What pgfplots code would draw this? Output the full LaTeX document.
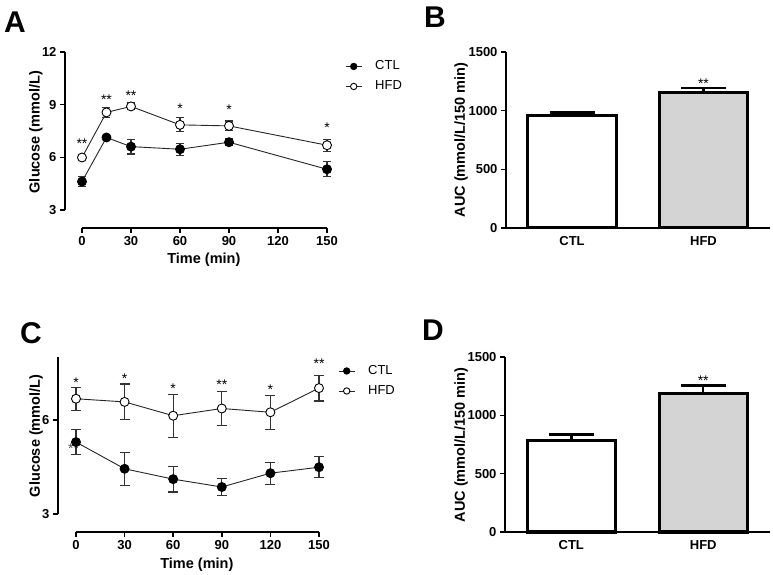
\documentclass[border=0pt]{standalone}
\usepackage{pgfplots}
\usepackage{pgfplotstable}
\pgfplotsset{compat=1.18}
\usepackage{fontspec}
\setmainfont{Liberation Sans}
\definecolor{barg}{HTML}{D4D4D4}

\pgfplotstableread{
t ctl ctle hfd hfde
0 4.62 0.30 5.99 0.06
15 7.13 0.08 8.56 0.28
30 6.61 0.42 8.90 0.20
60 6.46 0.35 7.85 0.40
90 6.86 0.20 7.79 0.28
150 5.32 0.43 6.69 0.35
}\tableA

\pgfplotstableread{
t ctl ctle hfd hfde
0 5.29 0.40 6.67 0.37
30 4.44 0.53 6.57 0.57
60 4.11 0.41 6.13 0.69
90 3.86 0.27 6.36 0.55
120 4.30 0.35 6.24 0.54
150 4.49 0.33 7.01 0.41
}\tableC

\tikzset{sig/.style={font=\fontsize{14}{16}\selectfont, anchor=center, yshift=-3.5pt, inner sep=0pt}}

\pgfplotsset{
  ctlline/.style={black!85, line width=0.9pt, mark=*, mark size=4.5pt,
    mark options={fill=black, draw=black, solid},
    error bars/.cd, y dir=both, y explicit,
    error bar style={line width=1.1pt, black!80},
    error mark options={rotate=90, black!80, line width=1.1pt, mark size=#1}},
  hfdline/.style={black!85, line width=0.9pt, mark=*, mark size=4.5pt,
    mark options={fill=white, draw=black, solid, line width=0.9pt},
    error bars/.cd, y dir=both, y explicit,
    error bar style={line width=1.1pt, black!80},
    error mark options={rotate=90, black!80, line width=1.1pt, mark size=#1}},
  lineaxis/.style={
    anchor=south west, scale only axis, clip=false,
    axis line style={draw=none},
    tick pos=left, tick align=outside, major tick length=5pt,
    tick style={black, line width=1.5pt},
    /pgf/number format/assume math mode=true,
    ticklabel style={font=\fontsize{13}{15}\selectfont\bfseries},
    label style={font=\fontsize{14.5}{17}\selectfont\bfseries},
    xlabel={Time (min)}, ylabel={Glucose (mmol/L)},
    legend style={draw=none, fill=none, inner sep=0pt, row sep=7.5pt,
      font=\fontsize{13}{15}\selectfont,
      nodes={inner sep=0pt, text height=9.5pt, text depth=3pt},
      /tikz/every odd column/.append style={column sep=13pt},
      legend cell align=left},
    legend image code/.code={
      \draw[mark repeat=2, mark phase=2, ##1, mark size=3.2pt] plot coordinates {(0pt,0pt) (8pt,0pt) (16pt,0pt)};},
  },
  baraxis/.style={
    anchor=south west, scale only axis, clip=false,
    xmin=-0.502, xmax=1.506, ymin=0, ymax=1500,
    axis x line*=bottom, axis y line*=left,
    axis line style={line width=2pt, black},
    xtick={0,1}, xticklabels={CTL,HFD}, ytick={0,500,1000,1500},
    x tick style={draw=none}, y tick style={black, line width=1.5pt},
    tick align=outside, major tick length=5pt,
    /pgf/number format/assume math mode=true,
    /pgf/number format/set thousands separator={},
    ticklabel style={font=\fontsize{13}{15}\selectfont\bfseries},
    label style={font=\fontsize{14.5}{17}\selectfont\bfseries},
    ylabel={AUC (mmol/L/150 min)},
  },
  thebar/.style={ybar, bar width=0.67, bar shift=0pt, draw=black, line width=3pt,
    error bars/.cd, y dir=plus, y explicit,
    error bar style={line width=2.5pt, black},
    error mark options={rotate=90, black, line width=2.5pt, mark size=22.5pt}},
}

\begin{document}
\begin{tikzpicture}
\path[use as bounding box] (0pt,0pt) rectangle (773pt,575pt);

% Panel A
\begin{axis}[lineaxis,
  at={(65pt,347pt)}, width=262pt, height=176pt,
  xmin=-10.4, xmax=150, ymin=1.975, ymax=12,
  xtick={0,30,60,90,120,150}, ytick={3,6,9,12},
  xlabel style={at={(axis description cs:0.53,-0.182)}, anchor=center},
  ylabel style={at={(axis description cs:-0.111,0.545)}, anchor=center},
  legend style={at={(axis description cs:1.069,0.861)}, anchor=west},
]
\draw[black, line width=2pt] (axis cs:-10.4,3) -- (axis cs:-10.4,12);
\draw[black, line width=2pt] (axis cs:0,1.975) -- (axis cs:150,1.975);
\addplot[ctlline=4pt] table[x=t, y=ctl, y error=ctle] {\tableA};
\addlegendentry{CTL}
\addplot[hfdline=4pt] table[x=t, y=hfd, y error=hfde] {\tableA};
\addlegendentry{HFD}
\node[sig] at (axis cs:0,7.0) {**};
\node[sig] at (axis cs:15,9.47) {**};
\node[sig] at (axis cs:30,9.70) {**};
\node[sig] at (axis cs:60,8.99) {*};
\node[sig] at (axis cs:90,8.90) {*};
\node[sig] at (axis cs:150,7.91) {*};
\end{axis}

% Panel B
\begin{axis}[baraxis,
  at={(506pt,347pt)}, width=264pt, height=176pt,
  ylabel style={at={(axis description cs:-0.170,0.5)}, anchor=center},
]
\addplot[fill=white, thebar] coordinates {(0,955) +- (0,30)};
\addplot[fill=barg, thebar] coordinates {(1,1158) +- (0,33)};
\node[sig] at (axis cs:1,1263) {**};
\end{axis}

% Panel C
\begin{axis}[lineaxis,
  at={(58pt,43pt)}, width=261pt, height=175pt,
  xmin=-11.1, xmax=150, ymin=2.427, ymax=8,
  xtick={0,30,60,90,120,150}, ytick={3,6},
  xlabel style={at={(axis description cs:0.532,-0.189)}, anchor=center},
  ylabel style={at={(axis description cs:-0.084,0.549)}, anchor=center},
  legend style={at={(axis description cs:1.073,0.863)}, anchor=west},
]
\draw[black, line width=2pt] (axis cs:-11.1,3) -- (axis cs:-11.1,8);
\draw[black, line width=2pt] (axis cs:0,2.427) -- (axis cs:150,2.427);
\node[sig, text=black!70] at (axis cs:-1.5,5.2) {**};
\addplot[ctlline=5pt] table[x=t, y=ctl, y error=ctle] {\tableC};
\addlegendentry{CTL}
\addplot[hfdline=5pt] table[x=t, y=hfd, y error=hfde] {\tableC};
\addlegendentry{HFD}
\node[sig] at (axis cs:0,7.29) {*};
\node[sig] at (axis cs:30,7.43) {*};
\node[sig] at (axis cs:60,7.11) {*};
\node[sig] at (axis cs:90,7.22) {**};
\node[sig] at (axis cs:120,7.08) {*};
\node[sig] at (axis cs:150,7.91) {**};
\end{axis}

% Panel D
\begin{axis}[baraxis,
  at={(505pt,43pt)}, width=265pt, height=175pt,
  ylabel style={at={(axis description cs:-0.166,0.497)}, anchor=center},
]
\addplot[fill=white, thebar] coordinates {(0,786) +- (0,51)};
\addplot[fill=barg, thebar] coordinates {(1,1186) +- (0,71)};
\node[sig] at (axis cs:1,1329) {**};
\end{axis}

\node[font=\fontsize{30}{31}\selectfont\bfseries] at (15pt,553pt) {A};
\node[font=\fontsize{30}{31}\selectfont\bfseries] at (435pt,558pt) {B};
\node[font=\fontsize{30}{31}\selectfont\bfseries] at (31pt,242pt) {C};
\node[font=\fontsize{30}{31}\selectfont\bfseries] at (433pt,245pt) {D};
\end{tikzpicture}
\end{document}
